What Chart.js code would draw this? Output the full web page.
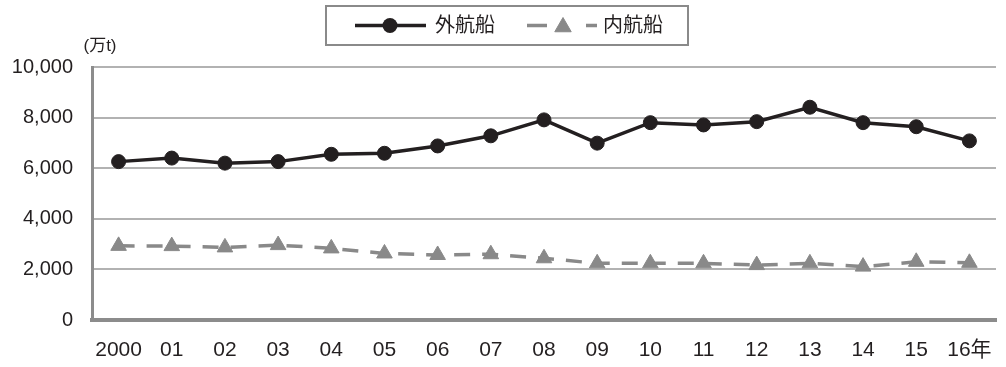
<!DOCTYPE html>
<html lang="ja">
<head>
 <meta charset="UTF-8">
 <title>外航船・内航船</title>
 <script src="https://cdn.jsdelivr.net/npm/chart.js"></script>
 <style>
   html, body { margin: 0; padding: 0; background: #fff; }
   #wrap { width: 1006px; height: 367px; position: relative; }
 </style>
</head>
<body>
 <div id="wrap"><canvas id="shipChart"></canvas></div>

 <script>
 // 年次ラベル
 const years = ['2000', '01', '02', '03', '04', '05', '06', '07', '08', '09', '10', '11', '12', '13', '14', '15', '16年'];
 // 外航船 (万t)
 const gaikou = [6260, 6400, 6200, 6260, 6550, 6590, 6880, 7280, 7910, 6990, 7800, 7710, 7840, 8410, 7800, 7640, 7080];
 // 内航船 (万t)
 const naikou = [2930, 2920, 2870, 2960, 2830, 2630, 2570, 2600, 2440, 2240, 2240, 2240, 2170, 2240, 2110, 2300, 2260];
 const yTicks = [0, 2000, 4000, 6000, 8000, 10000];
 const seriesNames = ['外航船', '内航船'];

 const FONT = "'Liberation Sans', 'Noto Sans CJK JP', sans-serif";
 const INK = '#231f20';
 const GRAY = '#898989';

 // 凡例と単位表示
 const decorPlugin = {
   id: 'decor',
   afterDraw(chart) {
     const ctx = chart.ctx;
     ctx.save();
     // 単位
     ctx.fillStyle = INK;
     ctx.font = '17px ' + FONT;
     ctx.textAlign = 'center';
     ctx.textBaseline = 'middle';
     ctx.fillText('(万t)', 100, 46);

     // 凡例枠
     ctx.strokeStyle = '#8a8a8a';
     ctx.lineWidth = 2;
     ctx.strokeRect(326, 6, 362, 39);

     const ly = 25.5;
     const ds0 = chart.data.datasets[0];
     const ds1 = chart.data.datasets[1];

     // 外航船
     ctx.strokeStyle = ds0.borderColor;
     ctx.lineWidth = ds0.borderWidth;
     ctx.beginPath();
     ctx.moveTo(355, ly);
     ctx.lineTo(426, ly);
     ctx.stroke();
     ctx.fillStyle = ds0.pointBackgroundColor;
     ctx.beginPath();
     ctx.arc(390, ly, 7.5, 0, Math.PI * 2);
     ctx.fill();

     // 内航船
     ctx.strokeStyle = ds1.borderColor;
     ctx.lineWidth = ds1.borderWidth;
     ctx.beginPath();
     ctx.moveTo(527, ly); ctx.lineTo(547, ly);
     ctx.moveTo(586, ly); ctx.lineTo(597, ly);
     ctx.stroke();
     ctx.fillStyle = ds1.pointBackgroundColor;
     ctx.strokeStyle = ds1.pointBackgroundColor;
     ctx.lineWidth = 1;
     Chart.helpers.drawPoint(ctx, {
       pointStyle: 'triangle', radius: 9.5, borderWidth: 1
     }, 563, ly + 1.5);

     ctx.fillStyle = INK;
     ctx.font = '20px ' + FONT;
     ctx.textAlign = 'left';
     ctx.fillText(seriesNames[0], 435, ly + 1);
     ctx.fillText(seriesNames[1], 603, ly + 1);
     ctx.restore();
   }
 };

 const ctx = document.getElementById('shipChart').getContext('2d');
 new Chart(ctx, {
   type: 'line',
   data: {
     labels: years,
     datasets: [{
       label: seriesNames[0],
       data: gaikou,
       borderColor: INK,
       borderWidth: 3.5,
       pointStyle: 'circle',
       pointRadius: 7,
       pointBorderWidth: 1,
       pointBackgroundColor: INK,
       pointBorderColor: INK,
       tension: 0
     }, {
       label: seriesNames[1],
       data: naikou,
       borderColor: GRAY,
       borderWidth: 3.5,
       borderDash: [16, 12],
       pointStyle: 'triangle',
       pointRadius: 9,
       pointBorderWidth: 1,
       pointBackgroundColor: GRAY,
       pointBorderColor: GRAY,
       tension: 0
     }]
   },
   options: {
     responsive: true,
     maintainAspectRatio: false,
     animation: false,
     layout: { padding: { top: 67, right: 0, left: 0, bottom: 0 } },
     plugins: {
       legend: { display: false },
       tooltip: { enabled: false }
     },
     scales: {
       x: {
         offset: true,
         grid: { display: false },
         border: { display: true, color: '#8c8c8c', width: 4 },
         ticks: {
           color: INK,
           font: { family: FONT, size: 21 },
           padding: 10,
           maxRotation: 0,
           autoSkip: false
         },
         afterFit(scale) { scale.height = 47; }
       },
       y: {
         min: 0,
         max: 10000,
         afterBuildTicks(scale) { scale.ticks = yTicks.map(v => ({ value: v })); },
         grid: { color: '#b2b2b2', lineWidth: 2, drawTicks: false },
         border: { display: true, color: '#8c8c8c', width: 3 },
         ticks: {
           color: INK,
           font: { family: FONT, size: 20 },
           padding: 19,
           callback: v => v.toLocaleString('en-US')
         },
         afterFit(scale) { scale.width = 92; }
       }
     }
   },
   plugins: [decorPlugin]
 });
 </script>
</body>
</html>
